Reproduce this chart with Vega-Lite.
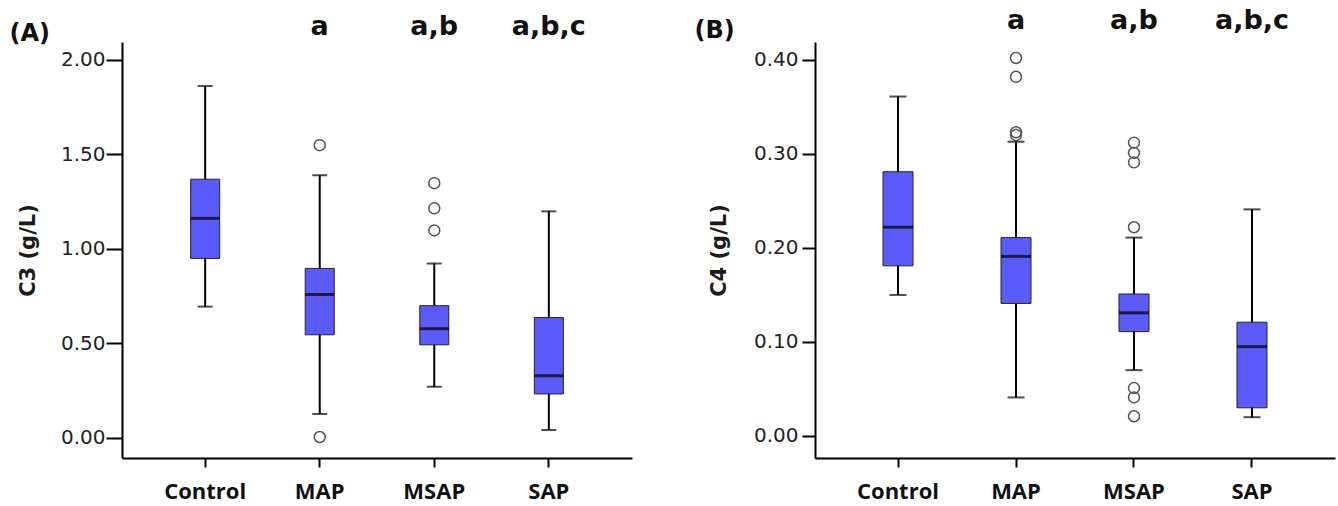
{
  "$schema": "https://vega.github.io/schema/vega-lite/v6.json",
  "background": "white",
  "padding": {"left": 9, "top": 6, "right": 2, "bottom": 2},
  "spacing": 62,
  "config": {
    "view": {"stroke": null},
    "axisX": {"domainColor": "black", "domainWidth": 2, "tickColor": "black", "tickWidth": 2, "tickSize": 9, "labelFont": "Open Sans", "labelFontWeight": "bold", "labelFontSize": 22, "labelColor": "#111", "labelPadding": 14, "labelAngle": 0, "grid": false},
    "axisY": {"domainColor": "black", "domainWidth": 2, "tickColor": "black", "tickWidth": 2, "tickSize": 16, "labelFont": "DejaVu Sans", "labelFontSize": 20, "labelColor": "#222", "labelPadding": 1, "titleFont": "DejaVu Sans", "titleFontWeight": "bold", "titleFontSize": 21, "titleColor": "#1a1a1a", "titlePadding": 22, "grid": false, "format": ".2f"}
  },
  "datasets": {
    "c3box": [
      {"group": "Control", "lo": 0.695, "q1": 0.95, "median": 1.162, "q3": 1.369, "hi": 1.862},
      {"group": "MAP", "lo": 0.127, "q1": 0.546, "median": 0.759, "q3": 0.897, "hi": 1.39},
      {"group": "MSAP", "lo": 0.271, "q1": 0.493, "median": 0.578, "q3": 0.70, "hi": 0.923},
      {"group": "SAP", "lo": 0.042, "q1": 0.233, "median": 0.329, "q3": 0.637, "hi": 1.199}
    ],
    "c3out": [
      {"group": "MAP", "value": 1.549},
      {"group": "MAP", "value": 0.005},
      {"group": "MSAP", "value": 1.348},
      {"group": "MSAP", "value": 1.215},
      {"group": "MSAP", "value": 1.098}
    ],
    "c3sig": [
      {"group": "MAP", "label": "a"},
      {"group": "MSAP", "label": "a,b"},
      {"group": "SAP", "label": "a,b,c"}
    ],
    "c4box": [
      {"group": "Control", "lo": 0.150, "q1": 0.181, "median": 0.222, "q3": 0.281, "hi": 0.361},
      {"group": "MAP", "lo": 0.041, "q1": 0.141, "median": 0.191, "q3": 0.211, "hi": 0.313},
      {"group": "MSAP", "lo": 0.070, "q1": 0.111, "median": 0.131, "q3": 0.151, "hi": 0.211},
      {"group": "SAP", "lo": 0.020, "q1": 0.030, "median": 0.095, "q3": 0.121, "hi": 0.241}
    ],
    "c4out": [
      {"group": "MAP", "value": 0.402},
      {"group": "MAP", "value": 0.382},
      {"group": "MAP", "value": 0.323},
      {"group": "MAP", "value": 0.320},
      {"group": "MSAP", "value": 0.312},
      {"group": "MSAP", "value": 0.301},
      {"group": "MSAP", "value": 0.291},
      {"group": "MSAP", "value": 0.222},
      {"group": "MSAP", "value": 0.051},
      {"group": "MSAP", "value": 0.041},
      {"group": "MSAP", "value": 0.021}
    ],
    "c4sig": [
      {"group": "MAP", "label": "a"},
      {"group": "MSAP", "label": "a,b"},
      {"group": "SAP", "label": "a,b,c"}
    ]
  },
  "hconcat": [
    {
      "width": 510,
      "height": 416,
      "title": {"text": "(A)", "anchor": "start", "frame": "bounds", "font": "DejaVu Sans", "fontSize": 24, "fontWeight": "bold", "color": "#111", "baseline": "alphabetic", "dx": -8, "offset": -52},
      "encoding": {
        "x": {"field": "group", "type": "nominal", "sort": ["Control", "MAP", "MSAP", "SAP"], "title": null, "scale": {"type": "band", "paddingInner": 0.5, "paddingOuter": 0.476}}
      },
      "layer": [
        {
          "data": {"name": "c3box"},
          "mark": {"type": "rule", "color": "black", "strokeWidth": 2},
          "encoding": {
            "y": {"field": "lo", "type": "quantitative", "title": "C3 (g/L)", "scale": {"domain": [-0.106, 2.095], "nice": false, "zero": false}, "axis": {"values": [0, 0.5, 1, 1.5, 2]}},
            "y2": {"field": "hi"}
          }
        },
        {
          "data": {"name": "c3box"},
          "mark": {"type": "tick", "orient": "horizontal", "color": "black", "size": 15, "thickness": 2},
          "encoding": {"y": {"field": "lo", "type": "quantitative", "title": "C3 (g/L)"}}
        },
        {
          "data": {"name": "c3box"},
          "mark": {"type": "tick", "orient": "horizontal", "color": "black", "size": 15, "thickness": 2},
          "encoding": {"y": {"field": "hi", "type": "quantitative", "title": "C3 (g/L)"}}
        },
        {
          "data": {"name": "c3box"},
          "mark": {"type": "bar", "size": 29, "fill": "#5b5bfb", "stroke": "#222", "strokeWidth": 1},
          "encoding": {"y": {"field": "q1", "type": "quantitative", "title": "C3 (g/L)"}, "y2": {"field": "q3"}}
        },
        {
          "data": {"name": "c3box"},
          "mark": {"type": "tick", "orient": "horizontal", "color": "black", "size": 29, "thickness": 3},
          "encoding": {"y": {"field": "median", "type": "quantitative", "title": "C3 (g/L)"}}
        },
        {
          "data": {"name": "c3out"},
          "mark": {"type": "point", "shape": "circle", "filled": false, "size": 120, "stroke": "#555", "strokeWidth": 1.5, "opacity": 1},
          "encoding": {"y": {"field": "value", "type": "quantitative", "title": "C3 (g/L)"}}
        },
        {
          "data": {"name": "c3sig"},
          "mark": {"type": "text", "font": "DejaVu Sans", "fontSize": 27, "fontWeight": "bold", "color": "#111", "baseline": "alphabetic", "clip": false},
          "encoding": {"y": {"datum": 2.132, "type": "quantitative"}, "text": {"field": "label"}}
        }
      ]
    },
    {
      "width": 520,
      "height": 416,
      "title": {"text": "(B)", "anchor": "start", "frame": "bounds", "font": "DejaVu Sans", "fontSize": 24, "fontWeight": "bold", "color": "#111", "baseline": "alphabetic", "dx": -14, "offset": -55},
      "encoding": {
        "x": {"field": "group", "type": "nominal", "sort": ["Control", "MAP", "MSAP", "SAP"], "title": null, "scale": {"type": "band", "paddingInner": 0.5, "paddingOuter": 0.4535}}
      },
      "layer": [
        {
          "data": {"name": "c4box"},
          "mark": {"type": "rule", "color": "black", "strokeWidth": 2},
          "encoding": {
            "y": {"field": "lo", "type": "quantitative", "title": "C4 (g/L)", "scale": {"domain": [-0.0234, 0.419], "nice": false, "zero": false}, "axis": {"values": [0, 0.1, 0.2, 0.3, 0.4], "tickSize": 13, "labelPadding": 4, "titlePadding": 24}},
            "y2": {"field": "hi"}
          }
        },
        {
          "data": {"name": "c4box"},
          "mark": {"type": "tick", "orient": "horizontal", "color": "black", "size": 17, "thickness": 2},
          "encoding": {"y": {"field": "lo", "type": "quantitative", "title": "C4 (g/L)"}}
        },
        {
          "data": {"name": "c4box"},
          "mark": {"type": "tick", "orient": "horizontal", "color": "black", "size": 17, "thickness": 2},
          "encoding": {"y": {"field": "hi", "type": "quantitative", "title": "C4 (g/L)"}}
        },
        {
          "data": {"name": "c4box"},
          "mark": {"type": "bar", "size": 30, "fill": "#5b5bfb", "stroke": "#222", "strokeWidth": 1},
          "encoding": {"y": {"field": "q1", "type": "quantitative", "title": "C4 (g/L)"}, "y2": {"field": "q3"}}
        },
        {
          "data": {"name": "c4box"},
          "mark": {"type": "tick", "orient": "horizontal", "color": "black", "size": 30, "thickness": 3},
          "encoding": {"y": {"field": "median", "type": "quantitative", "title": "C4 (g/L)"}}
        },
        {
          "data": {"name": "c4out"},
          "mark": {"type": "point", "shape": "circle", "filled": false, "size": 120, "stroke": "#555", "strokeWidth": 1.5, "opacity": 1},
          "encoding": {"y": {"field": "value", "type": "quantitative", "title": "C4 (g/L)"}}
        },
        {
          "data": {"name": "c4sig"},
          "mark": {"type": "text", "font": "DejaVu Sans", "fontSize": 27, "fontWeight": "bold", "color": "#111", "baseline": "alphabetic", "clip": false},
          "encoding": {"y": {"datum": 0.433, "type": "quantitative"}, "text": {"field": "label"}}
        }
      ]
    }
  ]
}
